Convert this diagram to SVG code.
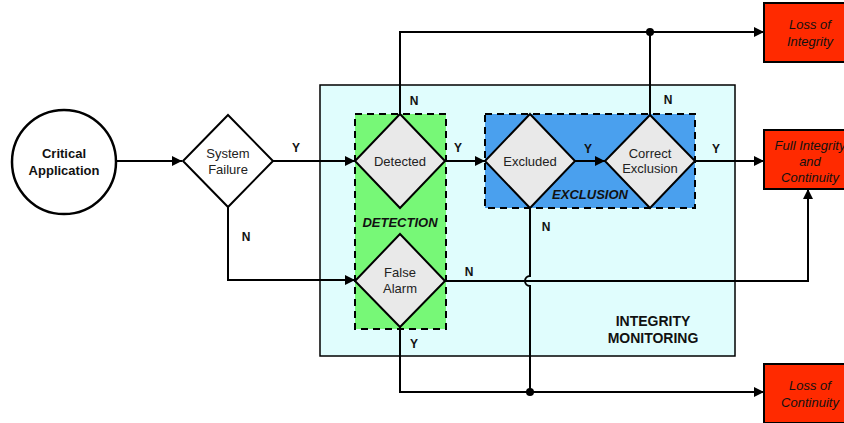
<svg xmlns="http://www.w3.org/2000/svg" width="844" height="423" viewBox="0 0 844 423">
  <style>
    .line { fill: none; stroke: #000; stroke-width: 2; }
    .diamond { fill: #e9e9e9; stroke: #000; stroke-width: 2; }
    .outcome { fill: #ff2a00; stroke: #000; stroke-width: 2; }
    .dash { stroke: #000; stroke-width: 2; stroke-dasharray: 7 5; }
    .txt { font-family: "Liberation Sans", Arial, sans-serif; font-size: 13px; fill: #222; text-anchor: middle; }
    .lbl { font-family: "Liberation Sans", Arial, sans-serif; font-size: 12px; font-weight: bold; fill: #111; text-anchor: middle; }
    .out { font-family: "Liberation Sans", Arial, sans-serif; font-size: 13px; font-style: italic; fill: #111; text-anchor: middle; }
    .zone { font-family: "Liberation Sans", Arial, sans-serif; font-size: 13px; font-weight: bold; font-style: italic; fill: #111; text-anchor: middle; }
    .title { font-family: "Liberation Sans", Arial, sans-serif; font-size: 14px; font-weight: bold; fill: #111; text-anchor: middle; }
  </style>
  <defs>
    <marker id="arrow" viewBox="0 0 10 10" refX="10" refY="5" markerWidth="10" markerHeight="10" markerUnits="userSpaceOnUse" orient="auto">
      <path d="M0,0 L10,5 L0,10 z" fill="#000"/>
    </marker>
  </defs>

  <!-- integrity monitoring container -->
  <g id="integrity-monitoring">
    <rect x="320" y="85" width="415" height="271" fill="#e0fdfd" stroke="#000" stroke-width="1.5"/>
    <text class="title" x="653" y="326">INTEGRITY</text>
    <text class="title" x="653" y="343">MONITORING</text>
  </g>

  <!-- detection area -->
  <g id="detection">
    <rect x="355" y="114" width="91" height="215" fill="#77f877" class="dash"/>
    <text class="zone" x="400" y="227">DETECTION</text>
  </g>

  <!-- exclusion area -->
  <g id="exclusion">
    <rect x="485" y="114" width="210" height="94" fill="#4aa0ee" class="dash"/>
    <text class="zone" x="590" y="199">EXCLUSION</text>
  </g>

  <!-- connectors -->
  <g id="connectors">
    <path class="line" d="M117,161 H182" marker-end="url(#arrow)"/>
    <path class="line" d="M273,161 H355" marker-end="url(#arrow)"/>
    <path class="line" d="M228,207 V280 H355" marker-end="url(#arrow)"/>
    <path class="line" d="M445,161 H485" marker-end="url(#arrow)"/>
    <path class="line" d="M575,161 H605" marker-end="url(#arrow)"/>
    <path class="line" d="M695,161 H764" marker-end="url(#arrow)"/>
    <path class="line" d="M400,114 V32 H764" marker-end="url(#arrow)"/>
    <path class="line" d="M650,115 V32"/>
    <path class="line" d="M445,281 H808 V189" marker-end="url(#arrow)"/>
    <path class="line" d="M530,208 V276 A5,5 0 0 0 530,286 V392"/>
    <path class="line" d="M400,327 V392 H764" marker-end="url(#arrow)"/>
    <circle cx="650" cy="32" r="4" fill="#000"/>
    <circle cx="530" cy="392" r="4" fill="#000"/>
    <text class="lbl" x="296" y="152">Y</text>
    <text class="lbl" x="246" y="241">N</text>
    <text class="lbl" x="414" y="105">N</text>
    <text class="lbl" x="458" y="152">Y</text>
    <text class="lbl" x="588" y="153">Y</text>
    <text class="lbl" x="668" y="104">N</text>
    <text class="lbl" x="716" y="153">Y</text>
    <text class="lbl" x="546" y="231">N</text>
    <text class="lbl" x="469" y="276">N</text>
    <text class="lbl" x="414" y="348">Y</text>
  </g>

  <g id="critical-application">
    <circle cx="64" cy="162" r="52" fill="#fff" stroke="#000" stroke-width="2.5"/>
    <text class="lbl" x="64" y="158" style="font-size:13px">Critical</text>
    <text class="lbl" x="64" y="175" style="font-size:13px">Application</text>
  </g>

  <g id="system-failure">
    <path class="diamond" d="M228,115 L273,161 L228,207 L183,161 z" fill="#fff" style="fill:#fff"/>
    <text class="txt" x="228" y="158">System</text>
    <text class="txt" x="228" y="174">Failure</text>
  </g>

  <g id="detected">
    <path class="diamond" d="M400,114 L445,161 L400,208 L355,161 z"/>
    <text class="txt" x="400" y="166">Detected</text>
  </g>

  <g id="false-alarm">
    <path class="diamond" d="M400,234 L445,281 L400,327 L355,281 z"/>
    <text class="txt" x="400" y="277">False</text>
    <text class="txt" x="400" y="293">Alarm</text>
  </g>

  <g id="excluded">
    <path class="diamond" d="M530,114 L575,161 L530,208 L485,161 z"/>
    <text class="txt" x="530" y="166">Excluded</text>
  </g>

  <g id="correct-exclusion">
    <path class="diamond" d="M650,115 L695,161 L650,208 L605,161 z"/>
    <text class="txt" x="650" y="158">Correct</text>
    <text class="txt" x="650" y="173">Exclusion</text>
  </g>

  <g id="loss-of-integrity">
    <rect class="outcome" x="764" y="3" width="90" height="59"/>
    <text class="out" x="810" y="29">Loss of</text>
    <text class="out" x="810" y="46">Integrity</text>
  </g>

  <g id="full-integrity">
    <rect class="outcome" x="764" y="130" width="90" height="59"/>
    <text class="out" x="810" y="150">Full Integrity</text>
    <text class="out" x="810" y="166">and</text>
    <text class="out" x="810" y="182">Continuity</text>
  </g>

  <g id="loss-of-continuity">
    <rect class="outcome" x="764" y="364" width="90" height="59"/>
    <text class="out" x="810" y="390">Loss of</text>
    <text class="out" x="810" y="407">Continuity</text>
  </g>
</svg>
